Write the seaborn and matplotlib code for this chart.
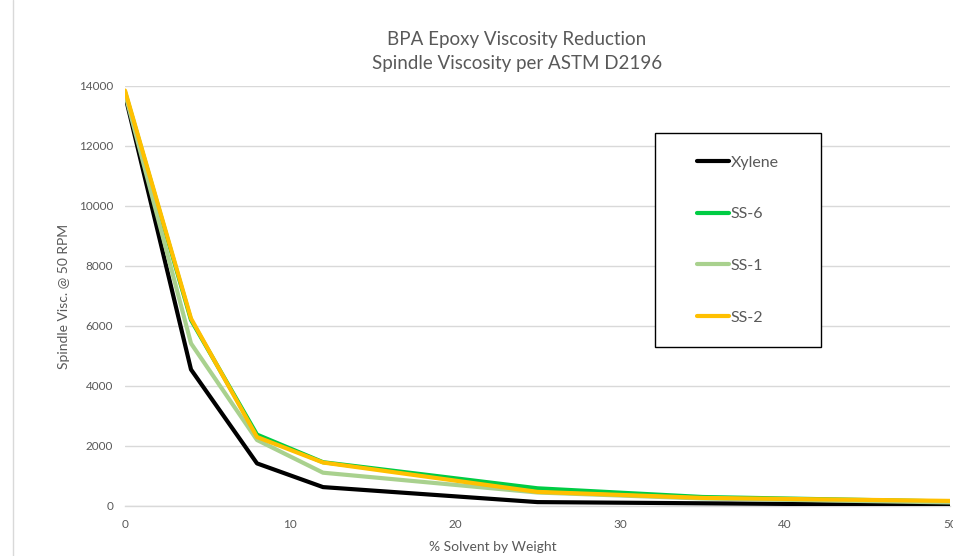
import matplotlib
matplotlib.use("Agg")
import matplotlib.pyplot as plt
from matplotlib.lines import Line2D
from matplotlib.patches import Rectangle
import pandas as pd
import seaborn as sns

# Solvent loading (% by weight) and measured spindle viscosity (cP @ 50 RPM)
solvent_pct = [0, 4, 8, 12, 25, 35, 50]
xylene = [13700, 4550, 1420, 630, 130, 90, 30]
ss6 = [13800, 6200, 2380, 1460, 590, 300, 150]
ss1 = [13750, 5420, 2200, 1110, 450, 250, 120]
ss2 = [13850, 6250, 2300, 1450, 470, 270, 170]

series_names = ["Xylene", "SS-6", "SS-1", "SS-2"]
series_values = [xylene, ss6, ss1, ss2]
colors = ["#000000", "#00CC44", "#A9D18E", "#FFC000"]

x_ticks = [0, 10, 20, 30, 40, 50]
y_ticks = [0, 2000, 4000, 6000, 8000, 10000, 12000, 14000]

rows = []
for name, vals in zip(series_names, series_values):
    for x, v in zip(solvent_pct, vals):
        rows.append({"Solvent": x, "Viscosity": v, "Series": name})
df = pd.DataFrame(rows)

sns.set_theme(style="white")
plt.rcParams["font.family"] = ["Lato", "DejaVu Sans"]
text_gray = "#595959"

W, H = 954, 556
fig = plt.figure(figsize=(W / 100, H / 100), dpi=100)
ax = fig.add_axes([125 / W, 50 / H, 825 / W, 420 / H])

sns.lineplot(data=df, x="Solvent", y="Viscosity", hue="Series",
             hue_order=series_names, palette=colors, linewidth=3,
             legend=False, ax=ax, zorder=3)

ax.set_xlim(0, 50)
ax.set_ylim(0, 14000)
ax.set_xticks(x_ticks)
ax.set_yticks(y_ticks)
ax.tick_params(axis="both", length=0, labelsize=8.5, labelcolor=text_gray)
ax.tick_params(axis="x", pad=9)
ax.tick_params(axis="y", pad=8.5)
ax.grid(axis="y", color="#D9D9D9", linewidth=1)
ax.grid(axis="x", visible=False)
for s in ["top", "right", "left"]:
    ax.spines[s].set_visible(False)
ax.spines["bottom"].set_color("#D9D9D9")
ax.spines["bottom"].set_linewidth(1)

ax.set_xlabel("% Solvent by Weight", fontsize=10, color=text_gray)
ax.set_ylabel("Spindle Visc. @ 50 RPM", fontsize=10, color=text_gray)
ax.xaxis.set_label_coords((493 - 125) / 825, -(541 - 506) / 420)
ax.yaxis.set_label_coords(-(125 - 70) / 825, 0.5)

fig.text(517 / W, 1 - 40 / H, "BPA Epoxy Viscosity Reduction",
         ha="center", va="center", fontsize=13.5, color=text_gray)
fig.text(517 / W, 1 - 64 / H, "Spindle Viscosity per ASTM D2196",
         ha="center", va="center", fontsize=13.5, color=text_gray)

# Chart-area border on the left edge
fig.add_artist(Line2D([13 / W, 13 / W], [0, 1], color="#D9D9D9", linewidth=1,
                      transform=fig.transFigure))

# Legend box
bx0, by0, bx1, by1 = 655, 133, 821, 347
fig.add_artist(Rectangle((bx0 / W, 1 - by1 / H), (bx1 - bx0) / W,
                         (by1 - by0) / H, transform=fig.transFigure,
                         facecolor="white", edgecolor="black", linewidth=1,
                         zorder=5))
handles = [Line2D([], [], color=c, linewidth=3) for c in colors]
leg = fig.legend(handles, series_names, loc="center",
                 bbox_to_anchor=((bx0 + bx1) / 2 / W, 1 - (by0 + by1) / 2 / H),
                 frameon=False, fontsize=11.5, labelspacing=2.35,
                 handlelength=2.0, handletextpad=0.1, labelcolor=text_gray)
leg.set_zorder(6)

fig.savefig("out.png", dpi=100)
